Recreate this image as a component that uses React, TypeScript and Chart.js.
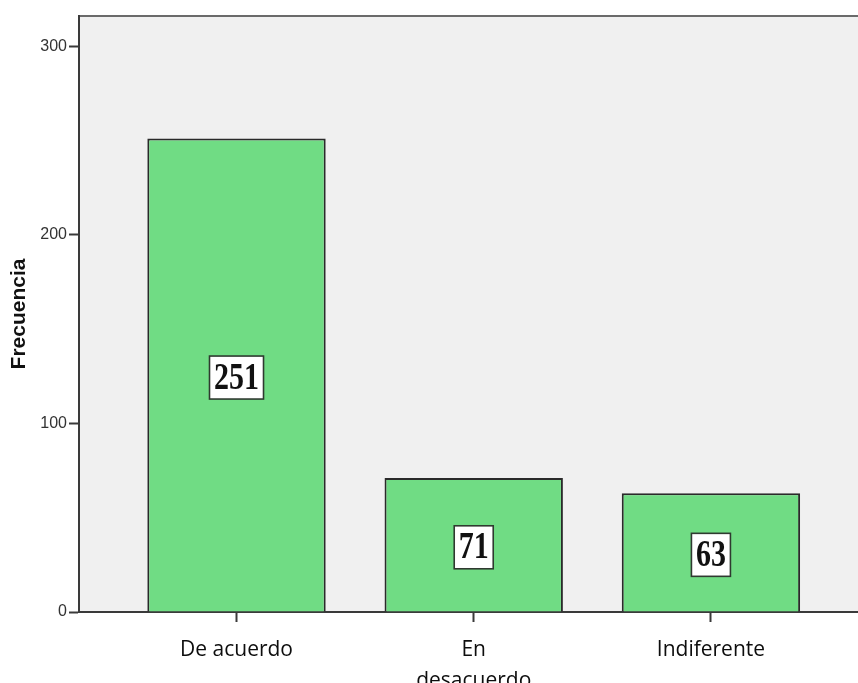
import React, { useEffect, useRef } from "react";
import { Chart, registerables } from "chart.js";

Chart.register(...registerables);

// Response categories (multi-line where the label wraps) and their counts
const CATEGORIES: string[][] = [["De acuerdo"], ["En", "desacuerdo"], ["Indiferente"]];
const FREQUENCIES: number[] = [251, 71, 63];
const Y_TICKS: number[] = [0, 100, 200, 300];
const Y_TITLE = "Frecuencia";

const BAR_COLOR = "#70dc84";
const PLOT_BG = "#f0f0f0";

// Gray plot background plus a top frame line
const plotBackground = {
  id: "plotBackground",
  beforeDraw(chart: any) {
    const { ctx, chartArea } = chart;
    ctx.save();
    ctx.fillStyle = PLOT_BG;
    ctx.fillRect(chartArea.left, chartArea.top, chartArea.right - chartArea.left, chartArea.bottom - chartArea.top);
    ctx.strokeStyle = "#6a6a6a";
    ctx.lineWidth = 2;
    ctx.beginPath();
    ctx.moveTo(chartArea.left, chartArea.top);
    ctx.lineTo(chartArea.right, chartArea.top);
    ctx.stroke();
    ctx.restore();
  },
};

// Boxed count labels in the middle of each bar
const boxedLabels = {
  id: "boxedLabels",
  afterDatasetsDraw(chart: any) {
    const { ctx } = chart;
    const meta = chart.getDatasetMeta(0);
    meta.data.forEach((bar: any, i: number) => {
      const text = String(FREQUENCIES[i]);
      const cx = bar.x;
      const cy = (bar.y + bar.base) / 2 + 2.5;
      ctx.save();
      ctx.font = "bold 30px 'Liberation Serif', 'Times New Roman', serif";
      const w = ctx.measureText(text).width;
      const bw = Math.round(w + 9);
      const bh = 43;
      ctx.fillStyle = "#ffffff";
      ctx.fillRect(cx - bw / 2, cy - bh / 2, bw, bh);
      ctx.strokeStyle = "#2f3a30";
      ctx.lineWidth = 1.6;
      ctx.strokeRect(cx - bw / 2, cy - bh / 2, bw, bh);
      ctx.translate(cx, cy);
      ctx.scale(1, 1.26);
      ctx.fillStyle = "#111111";
      ctx.textAlign = "center";
      ctx.textBaseline = "middle";
      ctx.fillText(text, 0, 1);
      ctx.restore();
    });
  },
};

export default function App() {
  const canvasRef = useRef<HTMLCanvasElement | null>(null);

  useEffect(() => {
    if (!canvasRef.current) return;
    const chart = new Chart(canvasRef.current, {
      type: "bar",
      data: {
        datasets: [
          {
            label: Y_TITLE,
            data: FREQUENCIES.map((v, i) => ({ x: i + 1, y: v })),
            backgroundColor: BAR_COLOR,
            borderColor: "#2a2a2a",
            borderWidth: 2,
            categoryPercentage: 1,
            barPercentage: 0.752,
          },
        ],
      },
      options: {
        responsive: false,
        animation: false,
        layout: { padding: { top: 16, left: 0, right: 0, bottom: 0 } },
        plugins: {
          legend: { display: false },
          tooltip: { enabled: false },
        },
        scales: {
          x: {
            type: "linear",
            offset: false,
            min: 0.336,
            max: 3.62,
            afterBuildTicks(scale: any) {
              scale.ticks = CATEGORIES.map((_, i) => ({ value: i + 1 }));
            },
            afterFit(scale: any) {
              scale.height = 71;
            },
            grid: {
              offset: false,
              drawOnChartArea: false,
              drawTicks: true,
              tickLength: 10,
              tickWidth: 2,
              tickColor: "#3a3a3a",
            },
            border: { display: true, color: "#3a3a3a", width: 2 },
            ticks: {
              autoSkip: false,
              maxRotation: 0,
              padding: 12,
              color: "#0d0d0d",
              font: { family: "'Open Sans', sans-serif", size: 21, lineHeight: 1.5 },
              callback: (value: any) => CATEGORIES[Number(value) - 1] ?? "",
            },
          },
          y: {
            min: 0,
            max: 316,
            afterBuildTicks(scale: any) {
              scale.ticks = Y_TICKS.map((v) => ({ value: v }));
            },
            afterFit(scale: any) {
              scale.width = 79;
            },
            grid: {
              drawOnChartArea: false,
              drawTicks: true,
              tickLength: 10,
              tickWidth: 2,
              tickColor: "#3a3a3a",
            },
            border: { display: true, color: "#3a3a3a", width: 2 },
            ticks: {
              padding: 2,
              color: "#333333",
              font: { family: "'Liberation Sans', Arial, sans-serif", size: 16 },
            },
            title: {
              display: true,
              text: Y_TITLE,
              color: "#111111",
              padding: { top: 7, bottom: 0 },
              font: { family: "'Liberation Sans', Arial, sans-serif", size: 21, weight: "bold" },
            },
          },
        },
      },
      plugins: [plotBackground, boxedLabels],
    });
    return () => chart.destroy();
  }, []);

  return (
    <div style={{ position: "absolute", left: 0, top: 0, width: 858, height: 683, background: "#ffffff" }}>
      <canvas ref={canvasRef} width={858} height={683} />
    </div>
  );
}
